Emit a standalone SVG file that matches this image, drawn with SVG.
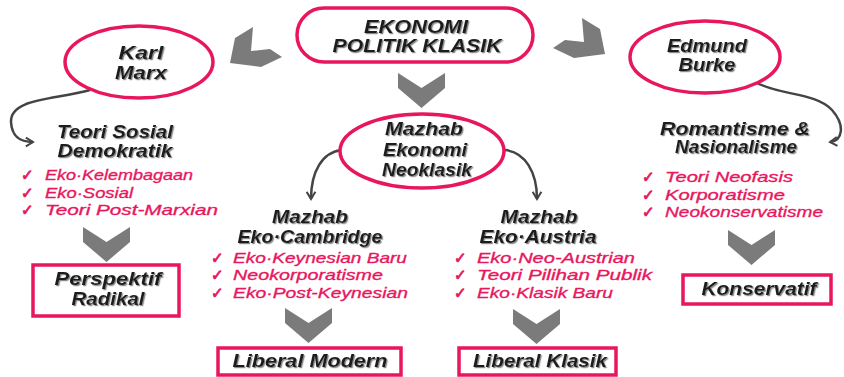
<svg xmlns="http://www.w3.org/2000/svg" width="844" height="377" viewBox="0 0 844 377">
<defs>
<filter id="sh" x="-10%" y="-20%" width="130%" height="150%">
<feDropShadow dx="1.2" dy="1.2" stdDeviation="0.7" flood-color="#8a8a8a" flood-opacity="1"/>
</filter>
<marker id="ah" viewBox="0 0 10 10" refX="8" refY="5" markerWidth="11" markerHeight="11" orient="auto" markerUnits="userSpaceOnUse">
<path d="M1.5,1 L8,5 L1.5,9" fill="none" stroke="#444" stroke-width="1.8"/>
</marker>
<path id="dch" d="M0,0 L23.5,15 L47,0 L47,15 L23.5,35 L0,15 Z"/>
</defs>
<style>
.h{font-family:"Liberation Sans",Arial,sans-serif;font-weight:bold;font-style:italic;font-size:18px;fill:#1e1e1e;filter:url(#sh);text-anchor:middle}
.li{font-family:"Liberation Sans",Arial,sans-serif;font-style:italic;font-size:15.5px;fill:#e8175d;stroke:#e8175d;stroke-width:0.35}
.ck{font-family:"DejaVu Sans",sans-serif;font-size:15px;font-weight:bold;fill:#e8175d;stroke:#e8175d;stroke-width:0.9}
.ov{fill:#fff;stroke:#e8175d;stroke-width:3.5}
.bx{fill:#fff;stroke:#e8175d;stroke-width:3.5}
.chev{fill:#7b7b7b}
.con{fill:none;stroke:#444;stroke-width:2.5;marker-end:url(#ah)}
</style>
<rect width="844" height="377" fill="#fff"/>

<g id="arrows-gray">
<polygon class="chev" points="253,27 235,38 230,63 261,67 282,57 270,49 251,51"/>
<polygon class="chev" points="582,18 600,29 605,54 574,58 553,48 565,40 584,42"/>
<use href="#dch" class="chev" x="398" y="73"/>
<use href="#dch" class="chev" x="83" y="227"/>
<use href="#dch" class="chev" x="285" y="308"/>
<use href="#dch" class="chev" x="513" y="309"/>
<use href="#dch" class="chev" x="728" y="230"/>
</g>

<g id="connectors">
<path class="con" d="M90,90 C55,100 10,98 11,122 C12,140 24,142 33,142"/>
<path class="con" d="M755,82 C780,96 815,92 832,110 C846,126 842,141 830,142"/>
<path class="con" d="M342,150 C322,152 311,172 311,199"/>
<path class="con" d="M505,150 C525,152 537,172 537,199"/>
</g>

<g id="ekonomi-politik-klasik">
<rect class="ov" x="297" y="8" width="236" height="54" rx="27"/>
<text class="h" x="416" y="33" textLength="104" lengthAdjust="spacingAndGlyphs">EKONOMI</text>
<text class="h" x="417" y="52" textLength="169" lengthAdjust="spacingAndGlyphs">POLITIK KLASIK</text>
</g>

<g id="karl-marx">
<ellipse class="ov" cx="139" cy="62" rx="74" ry="36"/>
<text class="h" x="141" y="59" textLength="45" lengthAdjust="spacingAndGlyphs">Karl</text>
<text class="h" x="141" y="79" textLength="52" lengthAdjust="spacingAndGlyphs">Marx</text>
</g>

<g id="edmund-burke">
<ellipse class="ov" cx="705" cy="57" rx="75" ry="36"/>
<text class="h" x="707" y="52" textLength="80" lengthAdjust="spacingAndGlyphs">Edmund</text>
<text class="h" x="707" y="71" textLength="57" lengthAdjust="spacingAndGlyphs">Burke</text>
</g>

<g id="mazhab-neoklasik">
<ellipse class="ov" cx="422" cy="151" rx="82" ry="37"/>
<text class="h" x="424" y="135" textLength="78" lengthAdjust="spacingAndGlyphs">Mazhab</text>
<text class="h" x="425" y="156" textLength="84" lengthAdjust="spacingAndGlyphs">Ekonomi</text>
<text class="h" x="427" y="176" textLength="90" lengthAdjust="spacingAndGlyphs">Neoklasik</text>
</g>

<g id="teori-sosial-demokratik">
<text class="h" x="115" y="138" textLength="116" lengthAdjust="spacingAndGlyphs">Teori Sosial</text>
<text class="h" x="115" y="157" textLength="115" lengthAdjust="spacingAndGlyphs">Demokratik</text>
<text class="ck" x="21" y="180">✓</text><text class="li" x="45" y="180" textLength="148" lengthAdjust="spacingAndGlyphs">Eko·Kelembagaan</text>
<text class="ck" x="21" y="198">✓</text><text class="li" x="45" y="198" textLength="88" lengthAdjust="spacingAndGlyphs">Eko·Sosial</text>
<text class="ck" x="21" y="215">✓</text><text class="li" x="45" y="215" textLength="173" lengthAdjust="spacingAndGlyphs">Teori Post-Marxian</text>
</g>

<g id="romantisme-nasionalisme">
<text class="h" x="735" y="135" textLength="150" lengthAdjust="spacingAndGlyphs">Romantisme &amp;</text>
<text class="h" x="736" y="153" textLength="122" lengthAdjust="spacingAndGlyphs">Nasionalisme</text>
<text class="ck" x="642" y="182">✓</text><text class="li" x="665" y="182" textLength="128" lengthAdjust="spacingAndGlyphs">Teori Neofasis</text>
<text class="ck" x="642" y="200">✓</text><text class="li" x="665" y="200" textLength="120" lengthAdjust="spacingAndGlyphs">Korporatisme</text>
<text class="ck" x="642" y="217">✓</text><text class="li" x="665" y="217" textLength="158" lengthAdjust="spacingAndGlyphs">Neokonservatisme</text>
</g>

<g id="mazhab-eko-cambridge">
<text class="h" x="310" y="223" textLength="76" lengthAdjust="spacingAndGlyphs">Mazhab</text>
<text class="h" x="310" y="243" textLength="145" lengthAdjust="spacingAndGlyphs">Eko·Cambridge</text>
<text class="ck" x="211" y="263">✓</text><text class="li" x="233" y="263" textLength="174" lengthAdjust="spacingAndGlyphs">Eko·Keynesian Baru</text>
<text class="ck" x="211" y="280">✓</text><text class="li" x="233" y="280" textLength="150" lengthAdjust="spacingAndGlyphs">Neokorporatisme</text>
<text class="ck" x="211" y="298">✓</text><text class="li" x="233" y="298" textLength="175" lengthAdjust="spacingAndGlyphs">Eko·Post-Keynesian</text>
</g>

<g id="mazhab-eko-austria">
<text class="h" x="539" y="223" textLength="77" lengthAdjust="spacingAndGlyphs">Mazhab</text>
<text class="h" x="538" y="243" textLength="117" lengthAdjust="spacingAndGlyphs">Eko·Austria</text>
<text class="ck" x="454" y="263">✓</text><text class="li" x="477" y="263" textLength="158" lengthAdjust="spacingAndGlyphs">Eko·Neo-Austrian</text>
<text class="ck" x="454" y="280">✓</text><text class="li" x="477" y="280" textLength="175" lengthAdjust="spacingAndGlyphs">Teori Pilihan Publik</text>
<text class="ck" x="454" y="298">✓</text><text class="li" x="477" y="298" textLength="136" lengthAdjust="spacingAndGlyphs">Eko·Klasik Baru</text>
</g>

<g id="perspektif-radikal">
<rect class="bx" x="33" y="265" width="146" height="51"/>
<text class="h" x="108" y="285" textLength="107" lengthAdjust="spacingAndGlyphs">Perspektif</text>
<text class="h" x="108" y="305" textLength="73" lengthAdjust="spacingAndGlyphs">Radikal</text>
</g>

<g id="liberal-modern">
<rect class="bx" x="218" y="348" width="183" height="27"/>
<text class="h" x="310" y="367" textLength="155" lengthAdjust="spacingAndGlyphs">Liberal Modern</text>
</g>

<g id="liberal-klasik">
<rect class="bx" x="459" y="348" width="157" height="27"/>
<text class="h" x="540" y="367" textLength="134" lengthAdjust="spacingAndGlyphs">Liberal Klasik</text>
</g>

<g id="konservatif">
<rect class="bx" x="683" y="275" width="148" height="29"/>
<text class="h" x="759" y="295" textLength="115" lengthAdjust="spacingAndGlyphs">Konservatif</text>
</g>
</svg>
